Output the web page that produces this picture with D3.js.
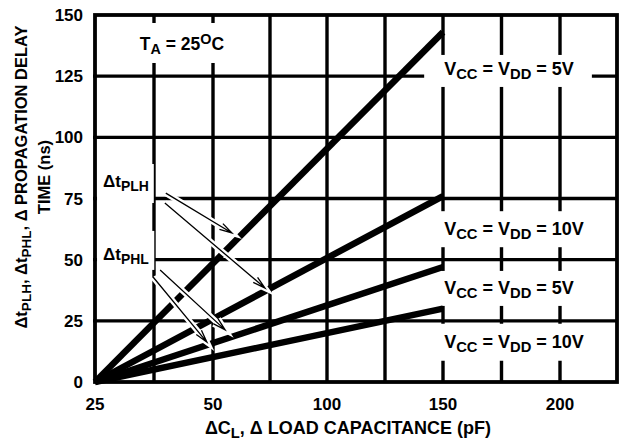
<!DOCTYPE html>
<html>
<head>
<meta charset="utf-8">
<script src="https://cdn.jsdelivr.net/npm/d3@7"></script>
<style>
  body { margin: 0; background: #fff; }
  text { font-family: "Liberation Sans", Arial, sans-serif; font-weight: bold; fill: #000; }
</style>
</head>
<body>
<svg id="chart" width="623" height="440"></svg>
<script>
// load capacitance (pF) at the two ends of each line
var loadCap = [25, 150];
// delta propagation delay (ns)
var plh5V = [0, 143];
var plh10V = [0, 76];
var phl5V = [0, 47];
var phl10V = [0, 30];

var xTicks = [25, 50, 100, 150, 200];
var xGrid = [37.5, 50, 75, 100, 125, 150, 175, 200];
var yTicks = [0, 25, 50, 75, 100, 125, 150];

var svg = d3.select('#chart');

// the x axis is not uniform: 25..50 takes as much room as 50..100
var x = d3.scaleLinear()
    .domain([25, 50, 100, 150, 200, 225])
    .range([95, 213, 327, 443, 560, 617]);
var y = d3.scaleLinear().domain([0, 150]).range([382, 15]);

var gridLayer = svg.append('g');
var boxLayer = svg.append('g');
var dataLayer = svg.append('g');
var arrowLayer = svg.append('g');
var textLayer = svg.append('g');
var borderLayer = svg.append('g');

// grid
gridLayer.selectAll('.hgrid')
    .data(yTicks.slice(1, -1))
    .enter().append('line')
    .attr('x1', x(25) - 2).attr('x2', x(225))
    .attr('y1', function (d) { return y(d); })
    .attr('y2', function (d) { return y(d); })
    .attr('stroke', '#000').attr('stroke-width', 3.4);

gridLayer.selectAll('.vgrid')
    .data(xGrid)
    .enter().append('line')
    .attr('x1', function (d) { return x(d); })
    .attr('x2', function (d) { return x(d); })
    .attr('y1', y(0)).attr('y2', y(150))
    .attr('stroke', '#000').attr('stroke-width', 3.4);

// data lines
var series = [plh5V, plh10V, phl5V, phl10V];
var line = d3.line()
    .x(function (d, i) { return x(loadCap[i]); })
    .y(function (d) { return y(d); });

dataLayer.selectAll('path')
    .data(series)
    .enter().append('path')
    .attr('d', line)
    .attr('fill', 'none')
    .attr('stroke', '#000')
    .attr('stroke-width', 6.5);

// rich text helper: parts = [[text, 'n'|'sub'|'sup'], ...]
function richText(g, px, py, parts, size) {
    var t = g.append('text').attr('x', px).attr('y', py).attr('font-size', size);
    var shift = 0;
    parts.forEach(function (p) {
        var target = p[1] === 'sub' ? 4 : (p[1] === 'sup' ? -6 : 0);
        t.append('tspan')
            .attr('dy', target - shift)
            .attr('font-size', p[1] === 'n' ? size : size * 0.82)
            .text(p[0]);
        shift = target;
    });
    return t;
}

function labelWithBox(pos, parts, size, pad) {
    var t = richText(textLayer, x(pos[0]), y(pos[1]), parts, size);
    var b = t.node().getBBox();
    boxLayer.append('rect')
        .attr('x', b.x - pad[0]).attr('y', b.y - pad[1])
        .attr('width', b.width + pad[0] + pad[2])
        .attr('height', b.height + pad[1] + pad[3])
        .attr('fill', '#fff');
}

var vcc5 = [['V', 'n'], ['CC', 'sub'], [' = V', 'n'], ['DD', 'sub'], [' = 5V', 'n']];
var vcc10 = [['V', 'n'], ['CC', 'sub'], [' = V', 'n'], ['DD', 'sub'], [' = 10V', 'n']];

labelWithBox([34.5, 135.7], [['T', 'n'], ['A', 'sub'], [' = 25', 'n'], ['O', 'sup'], ['C', 'n']], 17.5, [5, 8, 5, 6]);
labelWithBox([26.7, 79.7], [['\u0394t', 'n'], ['PLH', 'sub']], 17, [6, 8, 5, 9]);
labelWithBox([26.7, 49.9], [['\u0394t', 'n'], ['PHL', 'sub']], 17, [6, 14, 5, 3]);
labelWithBox([150.5, 125.5], vcc5, 18, [20, 4, 18, 5]);
labelWithBox([150.5, 60], vcc10, 18, [20, 8, 8, 5]);
labelWithBox([150.5, 36], vcc5, 18, [20, 7, 18, 5]);
labelWithBox([150.5, 14], vcc10, 18, [20, 8, 8, 6]);

// arrows from the delta labels to the lines, [x0, y0, x1, y1] in data units
var arrows = [
    [40.0, 77.2, 58.3, 60.9],
    [39.8, 73.2, 72.8, 38.4],
    [38.8, 45.8, 55.3, 21.3],
    [37.3, 42.9, 48.7, 16.3]
];

arrows.forEach(function (a) {
    var x0 = x(a[0]), y0 = y(a[1]), x1 = x(a[2]), y1 = y(a[3]);
    var ang = Math.atan2(y1 - y0, x1 - x0);
    var len = 13, spread = 0.26;
    var hx1 = x1 - len * Math.cos(ang - spread), hy1 = y1 - len * Math.sin(ang - spread);
    var hx2 = x1 - len * Math.cos(ang + spread), hy2 = y1 - len * Math.sin(ang + spread);
    var path = 'M' + x0 + ',' + y0 + 'L' + x1 + ',' + y1 +
        'M' + hx1 + ',' + hy1 + 'L' + x1 + ',' + y1 + 'L' + hx2 + ',' + hy2;
    arrowLayer.append('path').attr('d', path)
        .attr('fill', 'none').attr('stroke', '#fff').attr('stroke-width', 6);
    arrowLayer.append('path').attr('d', path)
        .attr('fill', 'none').attr('stroke', '#000').attr('stroke-width', 1.3);
});

// frame
borderLayer.append('rect')
    .attr('x', x(25)).attr('y', y(150))
    .attr('width', x(225) - x(25)).attr('height', y(0) - y(150))
    .attr('fill', 'none').attr('stroke', '#000').attr('stroke-width', 3.8);

// tick labels
textLayer.selectAll('.ylab')
    .data(yTicks)
    .enter().append('text')
    .attr('x', 83)
    .attr('y', function (d) { return y(d) + 6; })
    .attr('text-anchor', 'end')
    .attr('font-size', 17)
    .text(function (d) { return d; });

textLayer.selectAll('.xlab')
    .data(xTicks)
    .enter().append('text')
    .attr('x', function (d) { return x(d); })
    .attr('y', 410)
    .attr('text-anchor', 'middle')
    .attr('font-size', 17)
    .text(function (d) { return d; });

// axis titles
var xt = richText(textLayer, 348, 434,
    [['\u0394C', 'n'], ['L', 'sub'], [', \u0394 LOAD CAPACITANCE (pF)', 'n']], 18);
xt.attr('text-anchor', 'middle');

var yt = textLayer.append('g').attr('transform', 'translate(27,177) rotate(-90)');
richText(yt, 0, 0, [['\u0394t', 'n'], ['PLH', 'sub'], [', \u0394t', 'n'], ['PHL', 'sub'],
    [', \u0394 PROPAGATION DELAY', 'n']], 16.5).attr('text-anchor', 'middle');
richText(yt, 0, 23, [['TIME (ns)', 'n']], 16.5).attr('text-anchor', 'middle');
</script>
</body>
</html>
